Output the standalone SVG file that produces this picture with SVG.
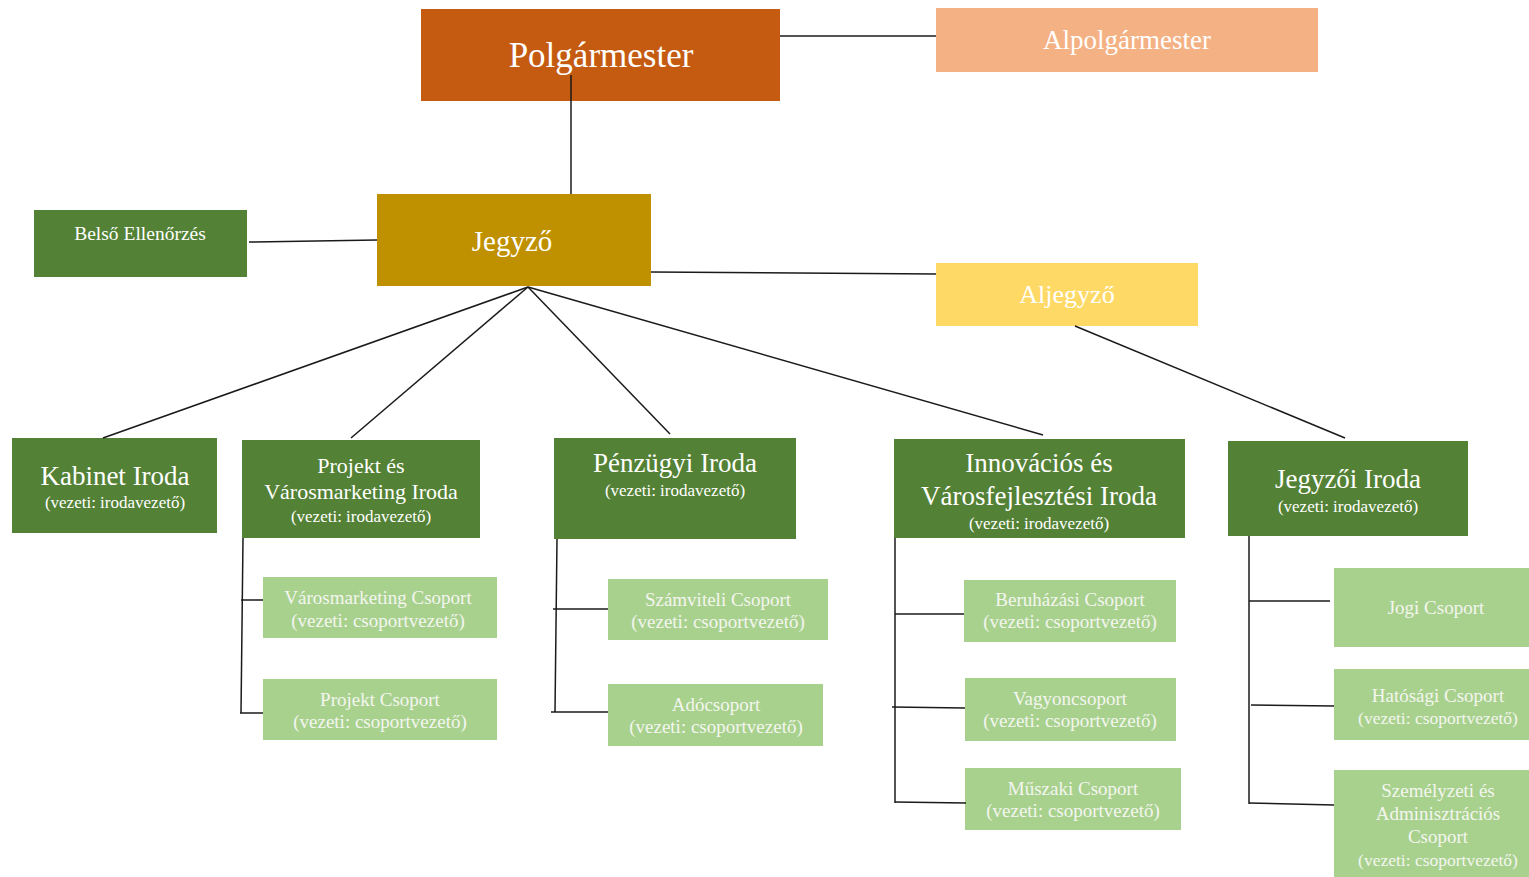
<svg xmlns="http://www.w3.org/2000/svg" width="1529" height="877" viewBox="0 0 1529 877">
<style>
text{font-family:"Liberation Serif","DejaVu Serif",serif;text-anchor:middle}
.t{fill:#FFFFFF}
.l{fill:#F3F6EF}
.dg{fill:#538135}
.lg{fill:#A9D18E}
.c line{stroke:#1a1a1a;stroke-width:1.5;fill:none}
.big{font-size:27px}
.sub{font-size:17px}
.gs{font-size:19px}
.gr{font-size:17.5px}
</style>
<rect width="1529" height="877" fill="#FFFFFF"/>
<g id="polgarmester"><rect x="421" y="9" width="359" height="92" fill="#C55A11"/><text class="t" x="601" y="67" font-size="35">Polgármester</text></g>
<g id="alpolgarmester"><rect x="936" y="8" width="382" height="64" fill="#F4B183"/><text class="t" x="1127" y="49" font-size="27">Alpolgármester</text></g>
<g id="jegyzo"><rect x="377" y="194" width="274" height="92" fill="#BF9000"/><text class="t" x="512" y="251" font-size="29">Jegyző</text></g>
<g id="belso"><rect x="34" y="210" width="213" height="67" class="dg"/><text class="t" x="140" y="240" font-size="19.5">Belső Ellenőrzés</text></g>
<g id="aljegyzo"><rect x="936" y="263" width="262" height="63" fill="#FFD966"/><text class="t" x="1067" y="303" font-size="26">Aljegyző</text></g>
<g id="kabinet"><rect x="12" y="438" width="205" height="95" class="dg"/><text class="t big" x="115" y="485">Kabinet Iroda</text><text class="t sub" x="115" y="508">(vezeti: irodavezető)</text></g>
<g id="projekt"><rect x="242" y="440" width="238" height="98" class="dg"/><text class="t" x="361" y="473" font-size="22">Projekt és</text><text class="t" x="361" y="499" font-size="22">Városmarketing Iroda</text><text class="t sub" x="361" y="522">(vezeti: irodavezető)</text></g>
<g id="penzugyi"><rect x="554" y="438" width="242" height="101" class="dg"/><text class="t big" x="675" y="472">Pénzügyi Iroda</text><text class="t sub" x="675" y="496">(vezeti: irodavezető)</text></g>
<g id="innovacios"><rect x="894" y="439" width="291" height="99" class="dg"/><text class="t big" x="1039" y="472">Innovációs és</text><text class="t big" x="1039" y="505">Városfejlesztési Iroda</text><text class="t sub" x="1039" y="529">(vezeti: irodavezető)</text></g>
<g id="jegyzoi"><rect x="1228" y="441" width="240" height="95" class="dg"/><text class="t big" x="1348" y="488">Jegyzői Iroda</text><text class="t sub" x="1348" y="512">(vezeti: irodavezető)</text></g>
<g id="varosmarketing"><rect x="263" y="577" width="234" height="61" class="lg"/><text class="l gs" x="378" y="604">Városmarketing Csoport</text><text class="l gs" x="378" y="627">(vezeti: csoportvezető)</text></g>
<g id="projektcs"><rect x="263" y="679" width="234" height="61" class="lg"/><text class="l gs" x="380" y="706">Projekt Csoport</text><text class="l gs" x="380" y="728">(vezeti: csoportvezető)</text></g>
<g id="szamviteli"><rect x="608" y="579" width="220" height="61" class="lg"/><text class="l gs" x="718" y="606">Számviteli Csoport</text><text class="l gs" x="718" y="628">(vezeti: csoportvezető)</text></g>
<g id="ado"><rect x="608" y="684" width="215" height="62" class="lg"/><text class="l gs" x="716" y="711">Adócsoport</text><text class="l gs" x="716" y="733">(vezeti: csoportvezető)</text></g>
<g id="beruhazasi"><rect x="964" y="580" width="212" height="62" class="lg"/><text class="l gs" x="1070" y="606">Beruházási Csoport</text><text class="l gs" x="1070" y="628">(vezeti: csoportvezető)</text></g>
<g id="vagyon"><rect x="965" y="678" width="211" height="63" class="lg"/><text class="l gs" x="1070" y="705">Vagyoncsoport</text><text class="l gs" x="1070" y="727">(vezeti: csoportvezető)</text></g>
<g id="muszaki"><rect x="965" y="768" width="216" height="62" class="lg"/><text class="l gs" x="1073" y="795">Műszaki Csoport</text><text class="l gs" x="1073" y="817">(vezeti: csoportvezető)</text></g>
<g id="jogi"><rect x="1334" y="568" width="195" height="79" class="lg"/><text class="l gs" x="1436" y="614">Jogi Csoport</text></g>
<g id="hatosagi"><rect x="1334" y="669" width="195" height="71" class="lg"/><text class="l gs" x="1438" y="702">Hatósági Csoport</text><text class="l gr" x="1438" y="724">(vezeti: csoportvezető)</text></g>
<g id="szemelyzeti"><rect x="1334" y="770" width="195" height="107" class="lg"/><text class="l gs" x="1438" y="797">Személyzeti és</text><text class="l gs" x="1438" y="820">Adminisztrációs</text><text class="l gs" x="1438" y="843">Csoport</text><text class="l gr" x="1438" y="866">(vezeti: csoportvezető)</text></g>
<g class="c" id="connectors">
<line x1="780" y1="36" x2="936" y2="36"/>
<line x1="571" y1="75" x2="571" y2="194"/>
<line x1="249" y1="242" x2="377" y2="240"/>
<line x1="651" y1="272" x2="936" y2="274"/>
<line x1="1075" y1="326" x2="1345" y2="438"/>
<line x1="528" y1="287" x2="103" y2="438"/>
<line x1="528" y1="287" x2="351" y2="438"/>
<line x1="528" y1="287" x2="670" y2="434"/>
<line x1="528" y1="287" x2="1043" y2="435"/>
<line x1="243" y1="538" x2="241" y2="713"/>
<line x1="241" y1="600" x2="263" y2="600"/>
<line x1="240" y1="713" x2="263" y2="713"/>
<line x1="557" y1="539" x2="555" y2="712"/>
<line x1="553" y1="609" x2="608" y2="609"/>
<line x1="551" y1="712" x2="608" y2="712"/>
<line x1="895" y1="538" x2="895" y2="803"/>
<line x1="895" y1="614" x2="964" y2="614"/>
<line x1="892" y1="707" x2="965" y2="708"/>
<line x1="895" y1="802" x2="966" y2="803"/>
<line x1="1249" y1="536" x2="1249" y2="804"/>
<line x1="1249" y1="601" x2="1330" y2="601"/>
<line x1="1251" y1="705" x2="1334" y2="706"/>
<line x1="1249" y1="803" x2="1334" y2="805"/>
</g>
</svg>
